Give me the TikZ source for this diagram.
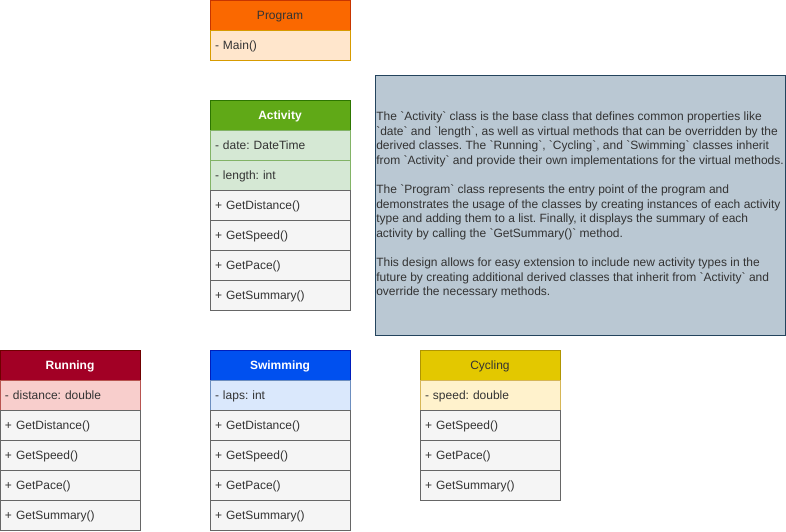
\documentclass[tikz,border=0pt]{standalone}
\usepackage{fontspec}
\usepackage{tikz}
\usepackage{xcolor}
\usetikzlibrary{positioning}
\newfontfamily\umlfont{Liberation Sans}
\frenchspacing
\definecolor{program-fill}{HTML}{FA6800}
\definecolor{program-draw}{HTML}{C73500}
\definecolor{program-row}{HTML}{FFE6CC}
\definecolor{program-rowdraw}{HTML}{D79B00}
\definecolor{activity-fill}{HTML}{60A917}
\definecolor{activity-draw}{HTML}{2D7600}
\definecolor{activity-row}{HTML}{D5E8D4}
\definecolor{activity-rowdraw}{HTML}{82B366}
\definecolor{running-fill}{HTML}{A20025}
\definecolor{running-draw}{HTML}{6F0000}
\definecolor{running-row}{HTML}{F8CECC}
\definecolor{running-rowdraw}{HTML}{B85450}
\definecolor{swimming-fill}{HTML}{0050EF}
\definecolor{swimming-draw}{HTML}{001DBC}
\definecolor{swimming-row}{HTML}{DAE8FC}
\definecolor{swimming-rowdraw}{HTML}{6C8EBF}
\definecolor{cycling-fill}{HTML}{E3C800}
\definecolor{cycling-draw}{HTML}{B09500}
\definecolor{cycling-row}{HTML}{FFF2CC}
\definecolor{cycling-rowdraw}{HTML}{D6B656}
\definecolor{method-fill}{HTML}{F5F5F5}
\definecolor{method-draw}{HTML}{666666}
\definecolor{note-fill}{HTML}{BAC8D3}
\definecolor{note-draw}{HTML}{23445D}
\definecolor{dark-text}{HTML}{333333}
\tikzset{
    class-title/.style = {rectangle, draw, line width=0.8pt, outer sep=0pt, minimum height=30pt, text width=130pt, text height=10.5pt, text depth=2pt, inner xsep=5pt, inner ysep=0pt, align=center, font=\umlfont\fontsize{12}{14}\selectfont},
    class-field/.style = {class-title, align=left, text=dark-text},
    class-method/.style = {class-field, fill=method-fill, draw=method-draw},
    note-box/.style = {rectangle, draw=note-draw, fill=note-fill, line width=0.8pt, outer sep=0pt, minimum height=260pt, minimum width=410pt, inner xsep=1pt, align=left, text=dark-text, font=\umlfont\fontsize{12}{14.6}\selectfont},
}

\begin{document}
\begin{tikzpicture}[x=1pt,y=-1pt]
\useasboundingbox (0,0) rectangle (786,531);

% Program
\node [class-title, anchor=north west, fill=program-fill, draw=program-draw, text=dark-text] (program) at (210,0) {Program};
\node [class-field, fill=program-row, draw=program-rowdraw, below=0pt of program] (program-main) {- Main()};

% Activity
\node [class-title, anchor=north west, fill=activity-fill, draw=activity-draw, text=white, font=\umlfont\bfseries\fontsize{12}{14}\selectfont] (activity) at (210,100) {Activity};
\node [class-field, fill=activity-row, draw=activity-rowdraw, below=0pt of activity] (activity-date) {- date: DateTime};
\node [class-field, fill=activity-row, draw=activity-rowdraw, below=0pt of activity-date] (activity-length) {- length: int};
\node [class-method, below=0pt of activity-length] (activity-distance) {+ GetDistance()};
\node [class-method, below=0pt of activity-distance] (activity-speed) {+ GetSpeed()};
\node [class-method, below=0pt of activity-speed] (activity-pace) {+ GetPace()};
\node [class-method, below=0pt of activity-pace] (activity-summary) {+ GetSummary()};

% Running
\node [class-title, anchor=north west, fill=running-fill, draw=running-draw, text=white, font=\umlfont\bfseries\fontsize{12}{14}\selectfont] (running) at (0,350) {Running};
\node [class-field, fill=running-row, draw=running-rowdraw, below=0pt of running] (running-distance) {- distance: double};
\node [class-method, below=0pt of running-distance] (running-getdistance) {+ GetDistance()};
\node [class-method, below=0pt of running-getdistance] (running-speed) {+ GetSpeed()};
\node [class-method, below=0pt of running-speed] (running-pace) {+ GetPace()};
\node [class-method, below=0pt of running-pace] (running-summary) {+ GetSummary()};

% Swimming
\node [class-title, anchor=north west, fill=swimming-fill, draw=swimming-draw, text=white, font=\umlfont\bfseries\fontsize{12}{14}\selectfont] (swimming) at (210,350) {Swimming};
\node [class-field, fill=swimming-row, draw=swimming-rowdraw, below=0pt of swimming] (swimming-laps) {- laps: int};
\node [class-method, below=0pt of swimming-laps] (swimming-distance) {+ GetDistance()};
\node [class-method, below=0pt of swimming-distance] (swimming-speed) {+ GetSpeed()};
\node [class-method, below=0pt of swimming-speed] (swimming-pace) {+ GetPace()};
\node [class-method, below=0pt of swimming-pace] (swimming-summary) {+ GetSummary()};

% Cycling
\node [class-title, anchor=north west, fill=cycling-fill, draw=cycling-draw, text=dark-text] (cycling) at (420,350) {Cycling};
\node [class-field, fill=cycling-row, draw=cycling-rowdraw, below=0pt of cycling] (cycling-speed) {- speed: double};
\node [class-method, below=0pt of cycling-speed] (cycling-getspeed) {+ GetSpeed()};
\node [class-method, below=0pt of cycling-getspeed] (cycling-pace) {+ GetPace()};
\node [class-method, below=0pt of cycling-pace] (cycling-summary) {+ GetSummary()};

% design note
\node [note-box, anchor=north west] (note) at (375,75) {%
The `Activity` class is the base class that defines common properties like\\
`date` and `length`, as well as virtual methods that can be overridden by the\\
derived classes. The `Running`, `Cycling`, and `Swimming` classes inherit\\
from `Activity` and provide their own implementations for the virtual methods.\\[14.6pt]
The `Program` class represents the entry point of the program and\\
demonstrates the usage of the classes by creating instances of each activity\\
type and adding them to a list. Finally, it displays the summary of each\\
activity by calling the `GetSummary()` method.\\[14.6pt]
This design allows for easy extension to include new activity types in the\\
future by creating additional derived classes that inherit from `Activity` and\\
override the necessary methods.};
\end{tikzpicture}
\end{document}
